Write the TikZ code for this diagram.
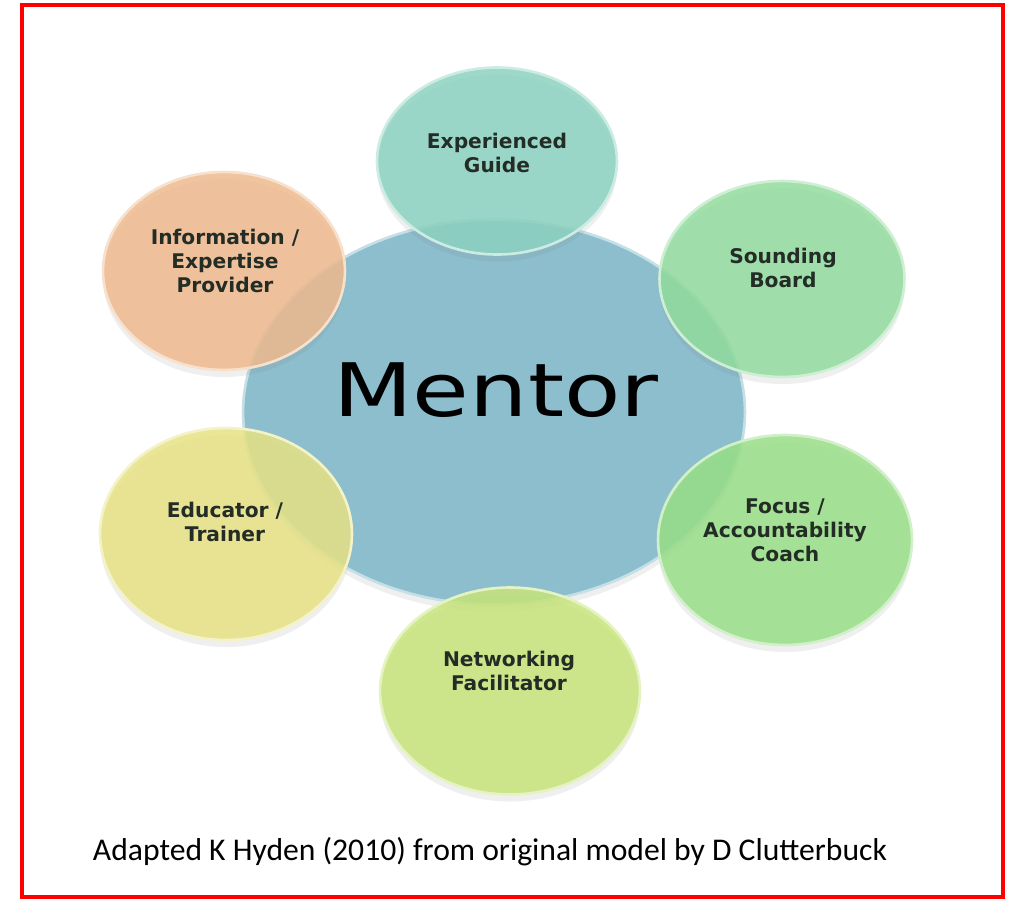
\documentclass[tikz,border=0pt]{standalone}
\usepackage{fontspec}
\setmainfont{DejaVu Sans}
\newfontfamily\captionfont{Carlito}
\usetikzlibrary{shapes.geometric, shadows, positioning}
\definecolor{mentorcolor}{RGB}{140,190,206}
\definecolor{guidecolor}{RGB}{140,210,192}
\definecolor{boardcolor}{RGB}{146,220,158}
\definecolor{infocolor}{RGB}{238,186,142}
\definecolor{educolor}{RGB}{230,226,132}
\definecolor{focuscolor}{RGB}{152,222,134}
\definecolor{netcolor}{RGB}{198,228,122}
\definecolor{labelcolor}{RGB}{35,45,38}

\begin{document}
\begin{tikzpicture}[x=0.02cm, y=-0.02cm,
        hub/.style={ellipse, draw=mentorcolor!50!white, line width=1.5pt, fill=mentorcolor,
            inner sep=0pt, drop shadow={opacity=0.12, shadow xshift=0pt, shadow yshift=-4pt}},
        role/.style={ellipse, draw=#1!45!white, line width=1.5pt, fill=#1, fill opacity=0.85,
            inner sep=0pt, drop shadow={opacity=0.12, shadow xshift=0pt, shadow yshift=-4pt}},
        roletext/.style={font=\bfseries\fontsize{11.5}{13.6}\selectfont, align=center, text=labelcolor}
    ]
        \useasboundingbox (0,0) rectangle (1015,899);
        \fill[white] (0,0) rectangle (1015,899);

        % Centre
        \node[hub, minimum width=10.04cm, minimum height=7.7cm] (mentor) at (494,412) {};

        % Roles round the centre
        \node[role=guidecolor, minimum width=4.8cm, minimum height=3.74cm] (guide) at (497,161) {};
        \node[role=boardcolor, minimum width=4.9cm, minimum height=3.92cm] (board) at (782,279) {};
        \node[role=infocolor, minimum width=4.84cm, minimum height=3.96cm] (info) at (224,271) {};
        \node[role=educolor, minimum width=5.04cm, minimum height=4.24cm] (educator) at (226,534) {};
        \node[role=focuscolor, minimum width=5.08cm, minimum height=4.2cm] (focus) at (785,540) {};
        \node[role=netcolor, minimum width=5.2cm, minimum height=4.14cm] (network) at (510,691) {};

        % Texts
        \node[font=\fontsize{42}{42}\selectfont, xscale=1.25, transform shape] (mentortxt)
            at (496,390) {Mentor};
        \node[roletext] (guidetxt) at (497,153) {Experienced\\Guide};
        \node[roletext] (boardtxt) at (783,268) {Sounding\\Board};
        \node[roletext] (infotxt) at (225,261) {Information /\\Expertise\\Provider};
        \node[roletext] (educatortxt) at (225,522) {Educator /\\Trainer};
        \node[roletext] (focustxt) at (785,530) {Focus /\\Accountability\\Coach};
        \node[roletext] (networktxt) at (509,671) {Networking\\Facilitator};

        % Source line
        \node[font=\captionfont\fontsize{18}{20}\selectfont] (source) at (490,852)
            {Adapted K Hyden (2010) from original model by D Clutterbuck};

        % Frame
        \draw[red, line width=2.3pt] (22,5) rectangle (1003,897);
    \end{tikzpicture}
\end{document}
